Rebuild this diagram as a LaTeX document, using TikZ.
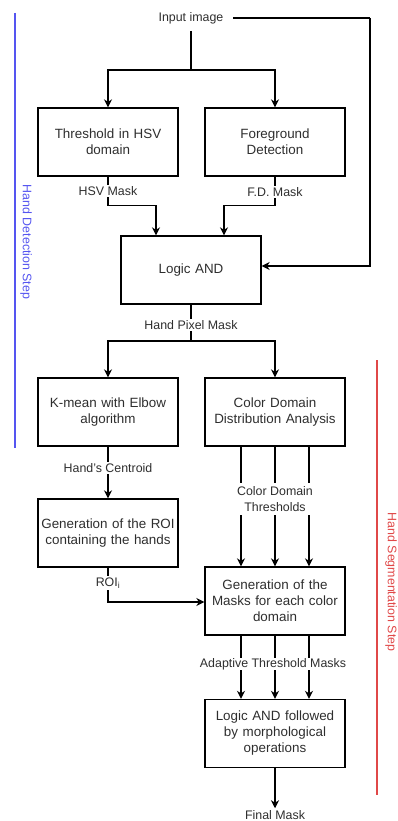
\documentclass[tikz,border=0pt]{standalone}
\usepackage{fontspec}
\setmainfont{Liberation Sans}
\usetikzlibrary{arrows.meta}
\definecolor{txt}{HTML}{2E2E2E}
\definecolor{stepblue}{HTML}{5555F0}
\definecolor{stepred}{HTML}{E04848}
\begin{document}
\begin{tikzpicture}[x=1pt,y=-1pt,
  box/.style={draw, line width=1.3pt, minimum width=136pt, minimum height=68pt, text width=140pt, align=center, inner sep=0pt, font=\fontsize{13.4}{16}\selectfont, text=txt},
  lbl/.style={fill=white, inner sep=1.5pt, align=center, font=\fontsize{12.4}{16}\selectfont, text=txt},
  plain/.style={inner sep=1pt, font=\fontsize{12.4}{15}\selectfont, text=txt},
  ln/.style={line width=1.3pt},
  arr/.style={line width=1.3pt, -{Stealth[length=8pt, width=8pt, inset=2.5pt]}},
  side/.style={font=\fontsize{12.4}{15}\selectfont, rotate=-90}
]
\useasboundingbox (0,0) rectangle (398,821);

% boxes
\node[box] (thr) at (108,142) {Threshold in HSV\\domain};
\node[box] (fg) at (275,142) {Foreground\\Detection};
\node[box] (and) at (191,270) {Logic AND};
\node[box] (km) at (108,412) {K-mean with Elbow\\algorithm};
\node[box] (cd) at (275,412) {Color Domain\\Distribution Analysis};
\node[box] (roi) at (108,533) {Generation of the ROI\\containing the hands};
\node[box] (masks) at (275,601) {Generation of the\\Masks for each color\\domain};
\node[box] (lafm) at (275,733.5) {Logic AND followed\\by morphological\\operations};

% terminals
\node[plain, inner sep=0pt, outer sep=0pt] (inp) at (191,18) {Input image};
\node[plain, inner sep=2pt] (fin) at (275,815) {Final Mask};

% coordinates
\coordinate (s1) at (191,70);
\coordinate (s2) at (191,341);
\coordinate (cr) at (370,18);

% connectors
\draw[ln] ([yshift=-7pt]inp.south) -- (s1);
\draw[arr] (s1) -| (thr.north);
\draw[arr] (s1) -| (fg.north);
\draw[ln] ([xshift=10pt]inp.east) -- (cr);
\draw[arr] (cr) |- ([yshift=4pt]and.east);
\draw[arr] (thr.south) -- ++(0,29) -| ([xshift=-35pt]and.north);
\draw[arr] (fg.south) -- ++(0,29) -| ([xshift=33pt]and.north);
\draw[ln] (and.south) -- (s2);
\draw[arr] (s2) -| (km.north);
\draw[arr] (s2) -| (cd.north);
\draw[arr] (km.south) -- (roi.north);
\draw[arr] (roi.south) |- ([yshift=-1pt]masks.west);
\foreach \dx in {-34,0,34} {
  \draw[arr] ([xshift=\dx pt]cd.south) -- ([xshift=\dx pt]masks.north);
  \draw[arr] ([xshift=\dx pt]masks.south) -- ([xshift=\dx pt]lafm.north);
}
\draw[arr] (lafm.south) -- (fin.north);

% edge labels
\node[lbl] (l1) at (108,191) {HSV Mask};
\node[lbl] (l2) at (275,192) {F.D. Mask};
\node[lbl] (l3) at (191,325) {Hand Pixel Mask};
\node[lbl] (l4) at (108,468) {Hand's Centroid};
\node[lbl, inner sep=3pt] (l5) at (275,499) {Color Domain\\Thresholds};
\node[lbl] (l6) at (108,583) {ROI\textsubscript{i}};
\node[lbl, inner sep=0.5pt] (l7) at (273,664) {Adaptive Threshold Masks};

% step markers
\draw[stepblue, line width=1.3pt] (15,13) -- (15,448);
\node[side, text=stepblue] (hds) at (26,242) {Hand Detection Step};
\draw[stepred, line width=1.3pt] (377,360) -- (377,795);
\node[side, text=stepred] (hss) at (391,582) {Hand Segmentation Step};
\end{tikzpicture}
\end{document}
